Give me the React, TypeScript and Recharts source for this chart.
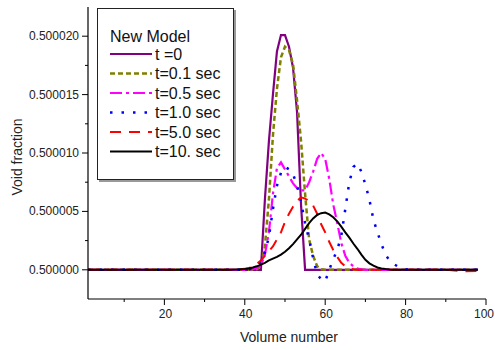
import React from "react"
import { Legend, Line, LineChart, XAxis, YAxis } from "recharts"

// void fraction is plotted as offset from 0.5, in units of 1e-6
const BASE = 0.5
const SCALE = 1e-6

const volumes = [
  1, 36, 38, 39, 40, 41, 42, 43, 44, 45, 46, 47, 48, 49, 50, 51, 52, 53, 54, 55,
  56, 57, 58, 59, 60, 61, 62, 63, 64, 65, 66, 67, 68, 69, 70, 71, 72, 73, 74, 75,
  76, 77, 78, 79, 80, 81, 82, 86, 90, 94, 98
]

// t = 0
const t0 = [
  0, 0, 0, 0, 0, 0, 0, 0, 0, 6, 11, 15, 18.7, 20.1, 20.1, 19.1, 17.3, 13.5, 5.5, 0,
  0, 0, 0, 0, 0, 0, 0, 0, 0, 0, 0, 0, 0, 0, 0, 0, 0, 0, 0, 0,
  0, 0, 0, 0, 0, 0, 0, 0, 0, 0, 0
]

// t = 0.1 sec
const t01 = [
  0, 0, 0, 0, 0, 0, 0, 0.05, 0.3, 2, 6, 11.5, 15.5, 18.2, 19.1, 18.8, 17.6, 14.5, 11, 6.5,
  2.6, 1.2, 0.3, 0.05, 0, 0, 0, 0, 0, 0, 0, 0, 0, 0, 0, 0, 0, 0, 0, 0,
  0, 0, 0, 0, 0, 0, 0, 0, 0, 0, 0
]

// t = 0.5 sec
const t05 = [
  0, 0, 0, 0, 0, 0.02, 0.05, 0.15, 0.4, 1.3, 3.2, 6.5, 8.7, 9.2, 8.6, 8.0, 7.4, 7.0, 6.8, 6.8,
  7.5, 8.4, 9.5, 10.0, 9.5, 7.8, 5.6, 4.0, 2.3, 1.2, 0.6, 0.3, 0.1, 0.03, 0, 0, 0, 0, 0, 0,
  0, 0, 0, 0, 0, 0, 0, 0, 0, 0, 0
]

// t = 1.0 sec
const t1 = [
  0, 0, 0, 0, 0.02, 0.05, 0.1, 0.3, 0.7, 1.5, 2.8, 5.2, 7.2, 8.3, 8.8, 8.6, 8.2, 7.2, 5.8, 4.0,
  2.6, 1.0, -0.4, -0.8, -1.0, 0.0, 0.9, 1.7, 2.9, 5.2, 7.5, 8.8, 9.1, 8.4, 7.3, 6.0, 4.3, 3.2, 2.2, 1.3,
  0.8, 0.5, 0.3, 0.15, 0.05, 0, 0, 0, 0, 0, 0
]

// t = 5.0 sec
const t5 = [
  0, 0, 0.02, 0.04, 0.08, 0.15, 0.25, 0.5, 0.8, 1.2, 1.6, 2.0, 2.6, 3.2, 4.1, 4.8, 5.4, 5.9, 6.2, 6.1,
  5.9, 5.5, 4.8, 3.9, 3.2, 2.4, 1.7, 1.1, 0.6, 0.3, 0.15, 0.05, 0, 0, 0, 0, 0, 0, 0, 0,
  0, 0, 0, 0, 0, 0, 0, 0, 0, -0.12, -0.1
]

// t = 10. sec
const t10 = [
  0, 0, 0.02, 0.04, 0.06, 0.12, 0.2, 0.3, 0.45, 0.6, 0.8, 0.95, 1.1, 1.3, 1.55, 1.85, 2.2, 2.6, 3.0, 3.5,
  4.0, 4.4, 4.7, 4.85, 4.9, 4.75, 4.5, 4.15, 3.7, 3.2, 2.75, 2.25, 1.8, 1.3, 0.85, 0.55, 0.35, 0.2, 0.12, 0.06,
  0.03, 0.01, 0, 0, 0, 0, 0, 0, 0, 0, 0
]

const xTicks = [10, 20, 30, 40, 50, 60, 70, 80, 90, 100]
const yTicks = [0, 2.5, 5, 7.5, 10, 12.5, 15, 17.5, 20]

const series = [
  { key: "t0", name: "t =0", color: "#800080", dash: undefined, width: 2.2 },
  { key: "t01", name: "t=0.1 sec", color: "#808000", dash: "5 3", width: 2.5 },
  { key: "t05", name: "t=0.5 sec", color: "#ff00ff", dash: "12 4 3 4", width: 2.2 },
  { key: "t1", name: "t=1.0 sec", color: "#0000ff", dash: "2.5 9", width: 2.5 },
  { key: "t5", name: "t=5.0 sec", color: "#ff0000", dash: "11 8", width: 2 },
  { key: "t10", name: "t=10. sec", color: "#000000", dash: undefined, width: 2 }
]

const data = volumes.map((v, i) => ({
  volume: v,
  t0: t0[i],
  t01: t01[i],
  t05: t05[i],
  t1: t1[i],
  t5: t5[i],
  t10: t10[i]
}))

const FONT = "'Liberation Sans', Arial, sans-serif"
const CHART_W = 495

const formatVoid = (v: number) => (BASE + v * SCALE).toFixed(6)

function YTick(props: any) {
  const { x, y, payload } = props
  const major = payload.value % 5 === 0
  return (
    <g>
      <line x1={x} x2={x - (major ? 6 : 3)} y1={y} y2={y} stroke="#000" />
      {major && (
        <text
          x={x - 9}
          y={y}
          textAnchor="end"
          dominantBaseline="central"
          fontSize={12}
          fontFamily={FONT}
          fill="#222">
          {formatVoid(payload.value)}
        </text>
      )}
    </g>
  )
}

function XTick(props: any) {
  const { x, y, payload } = props
  const major = payload.value % 20 === 0
  // keep the last label inside the picture
  const nearEdge = x + 12 > CHART_W
  return (
    <g>
      <line x1={x} x2={x} y1={y} y2={y + (major ? 6 : 3)} stroke="#000" />
      {major && (
        <text
          x={nearEdge ? CHART_W - 1 : x + 1}
          y={y + 10}
          textAnchor={nearEdge ? "end" : "middle"}
          dominantBaseline="hanging"
          fontSize={12}
          fontFamily={FONT}
          fill="#222">
          {payload.value}
        </text>
      )}
    </g>
  )
}

function YTitle() {
  return (
    <text
      transform="translate(17, 157) rotate(-90)"
      textAnchor="middle"
      dominantBaseline="central"
      fontSize={14}
      fontFamily={FONT}
      fill="#222">
      Void fraction
    </text>
  )
}

function LegendBox() {
  return (
    <div
      style={{
        width: 137,
        height: 172,
        boxSizing: "border-box",
        border: "1px solid #222",
        boxShadow: "2px 2px 0 #999",
        background: "#fff"
      }}>
      <svg width={135} height={170} style={{ display: "block" }}>
        <text x={12} y={27} dominantBaseline="central" fontSize={16} fontFamily={FONT} fill="#111">
          New Model
        </text>
        {series.map((s, i) => {
          const cy = 45 + i * 19.5
          return (
            <g key={s.key}>
              <line
                x1={12}
                x2={54}
                y1={cy}
                y2={cy}
                stroke={s.color}
                strokeWidth={s.width}
                strokeDasharray={s.dash}
              />
              <text x={57} y={cy} dominantBaseline="central" fontSize={16} fontFamily={FONT} fill="#111">
                {s.name}
              </text>
            </g>
          )
        })}
      </svg>
    </div>
  )
}

export default function App() {
  return (
    <div style={{ position: "absolute", left: 0, top: 0, width: CHART_W, height: 350, background: "#fff" }}>
      <LineChart
        width={CHART_W}
        height={350}
        data={data}
        margin={{ top: 7, right: 9, left: 0, bottom: 0 }}>
        <XAxis
          dataKey="volume"
          type="number"
          domain={[1, 100]}
          ticks={xTicks}
          interval={0}
          height={51}
          tickSize={0}
          tickMargin={0}
          tickLine={false}
          tick={<XTick />}
          axisLine={{ stroke: "#000", strokeWidth: 1.2 }}
          label={{
            value: "Volume number",
            position: "insideBottom",
            offset: 8,
            fontSize: 14,
            fontFamily: FONT,
            fill: "#222",
            dx: 2
          }}
        />
        <YAxis
          type="number"
          domain={[-2.5, 22.5]}
          allowDataOverflow
          ticks={yTicks}
          interval={0}
          width={88}
          tickSize={0}
          tickMargin={0}
          tickLine={false}
          tick={<YTick />}
          axisLine={{ stroke: "#000", strokeWidth: 1.2 }}
          label={{ content: () => <YTitle /> }}
        />
        <Legend
          verticalAlign="middle"
          align="center"
          layout="horizontal"
          content={() => <LegendBox />}
          wrapperStyle={{ left: 97, top: 8, width: 137, height: 172 }}
        />
        {series.map((s) => (
          <Line
            key={s.key}
            dataKey={s.key}
            name={s.name}
            type="linear"
            stroke={s.color}
            strokeWidth={s.width}
            strokeDasharray={s.dash}
            dot={false}
            activeDot={false}
            isAnimationActive={false}
          />
        ))}
      </LineChart>
    </div>
  )
}
